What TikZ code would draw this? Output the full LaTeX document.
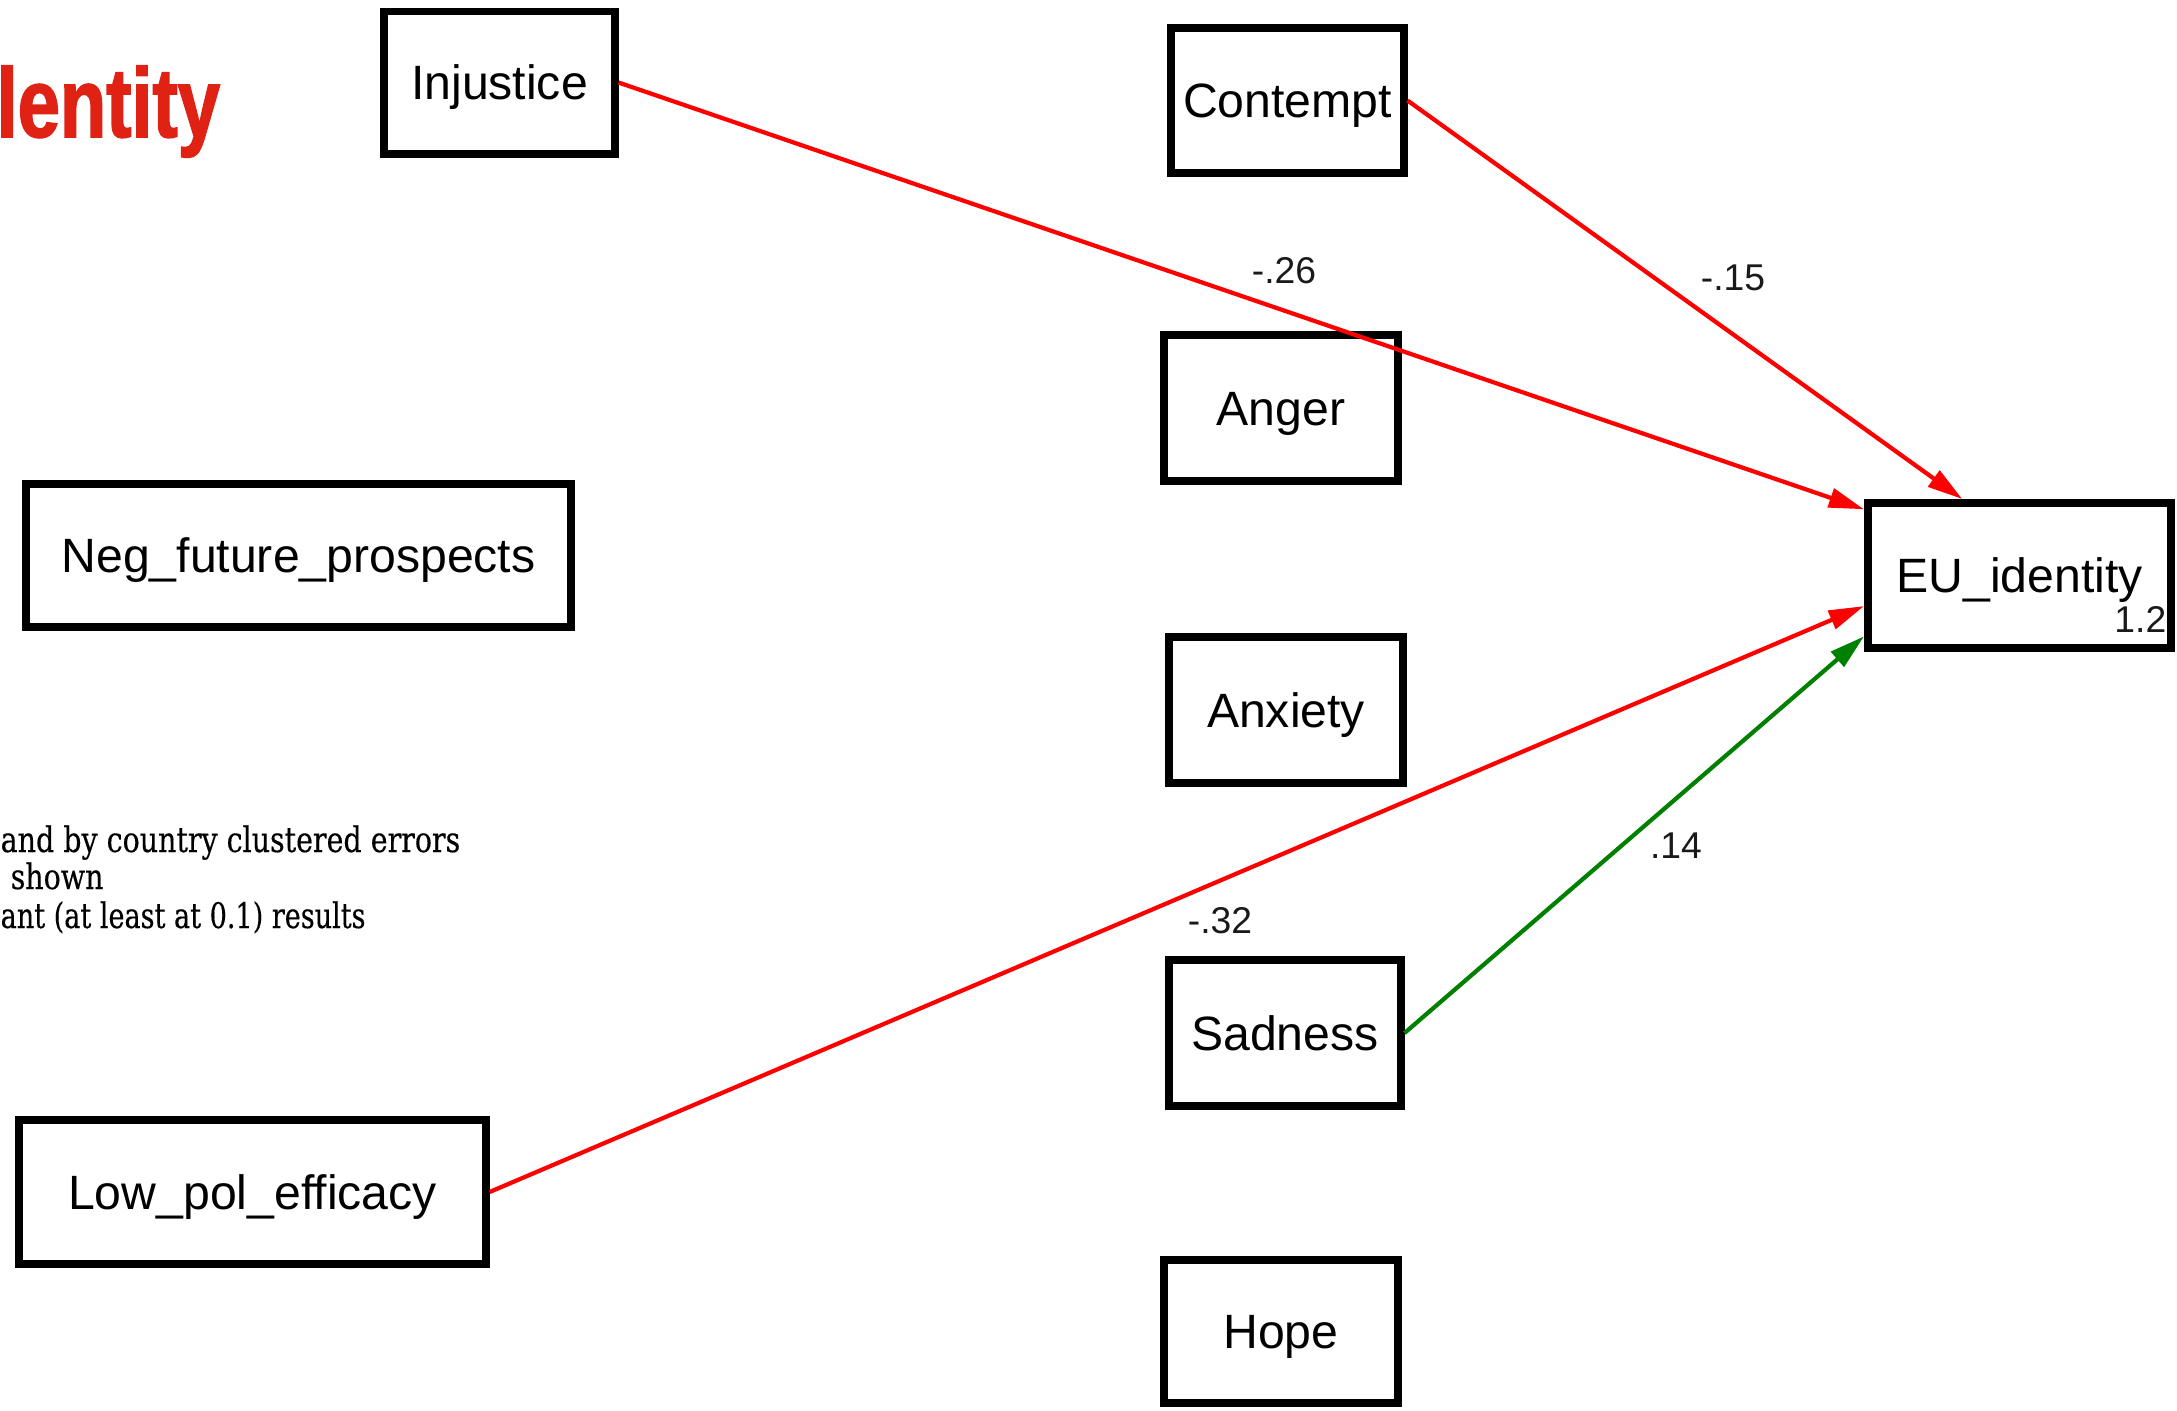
\documentclass[tikz,border=0pt]{standalone}
\usepackage{fontspec}
\setmainfont{Liberation Sans}
\newfontfamily\titlefont[FakeStretch=0.77,FakeBold=1.6]{Liberation Sans}
\newfontfamily\notefont[FakeStretch=0.81,FakeBold=0.3]{DejaVu Serif}
\usetikzlibrary{arrows.meta,calc}
\definecolor{titlered}{RGB}{224,34,20}
\definecolor{pathgreen}{RGB}{0,128,0}
\definecolor{pathred}{RGB}{255,0,0}
\begin{document}
\begin{tikzpicture}[x=0.01cm,y=-0.01cm,
  varbox/.style={draw=black, line width=2.25pt, inner sep=0pt,
    text height=9.8pt, text depth=0pt,
    font=\fontsize{13.7}{16}\selectfont},
  coef/.style={inner sep=0pt, font=\fontsize{10.6}{12}\selectfont, text=black!90},
  note/.style={anchor=base west, inner sep=0pt, font=\notefont\fontsize{10}{11}\selectfont},
  effect/.style={line width=1.2pt, -{Triangle[length=10pt,width=5.5pt]}},
  negarrow/.style={effect, draw=pathred},
  posarrow/.style={effect, draw=pathgreen}]
\useasboundingbox (0,0) rectangle (2177,1411);
\clip (0,0) rectangle (2177,1411);

% title fragment
\node[anchor=base west, inner sep=0pt, text=titlered,
  font=\titlefont\bfseries\fontsize{28}{30}\selectfont] (title) at (-4,137) {lentity};

% note text
\node[note] (n1) at (0,852) {and by country clustered errors};
\node[note] (n2) at (10,889) {shown};
\node[note] (n3) at (0,928) {\scalebox{0.95}[1]{ant (at least at 0.1) results}};

% variable boxes
\node[varbox, minimum width=2.30cm, minimum height=1.42cm] (inj) at (499.5,82.5) {Injustice};
\node[varbox, minimum width=2.32cm, minimum height=1.45cm] (con) at (1287.5,100.5) {Contempt};
\node[varbox, minimum width=2.34cm, minimum height=1.46cm] (ang) at (1281,408) {Anger};
\node[varbox, minimum width=2.34cm, minimum height=1.46cm] (anx) at (1286,710) {Anxiety};
\node[varbox, minimum width=2.31cm, minimum height=1.46cm] (sad) at (1285,1033) {Sadness};
\node[varbox, minimum width=2.34cm, minimum height=1.43cm] (hope) at (1281,1331.5) {Hope};
\node[varbox, minimum width=5.44cm, minimum height=1.43cm] (negf) at (298.5,555.5) {Neg\_future\_prospects};
\node[varbox, minimum width=4.66cm, minimum height=1.44cm] (low) at (252.5,1192) {Low\_pol\_efficacy};
\node[varbox, minimum width=3.03cm, minimum height=1.45cm] (eu) at (2019.5,575.5) {EU\_identity};
\node[coef, anchor=base east] (eures) at (2167,632) {1.2};

% paths
\draw[negarrow] (inj.east) -- ($(eu.north west)!0.067!(eu.south west)$);
\draw[negarrow] (con.east) -- ($(eu.north west)!0.316!(eu.north east)$);
\draw[negarrow] (low.east) -- ($(eu.north west)!0.70!(eu.south west)$);
\draw[posarrow] (sad.east) -- ($(eu.north west)!0.898!(eu.south west)$);

% coefficients
\node[coef] (c1) at (1284,271) {-.26};
\node[coef] (c2) at (1733,278) {-.15};
\node[coef] (c3) at (1676,846) {.14};
\node[coef] (c4) at (1220,921) {-.32};
\end{tikzpicture}
\end{document}
